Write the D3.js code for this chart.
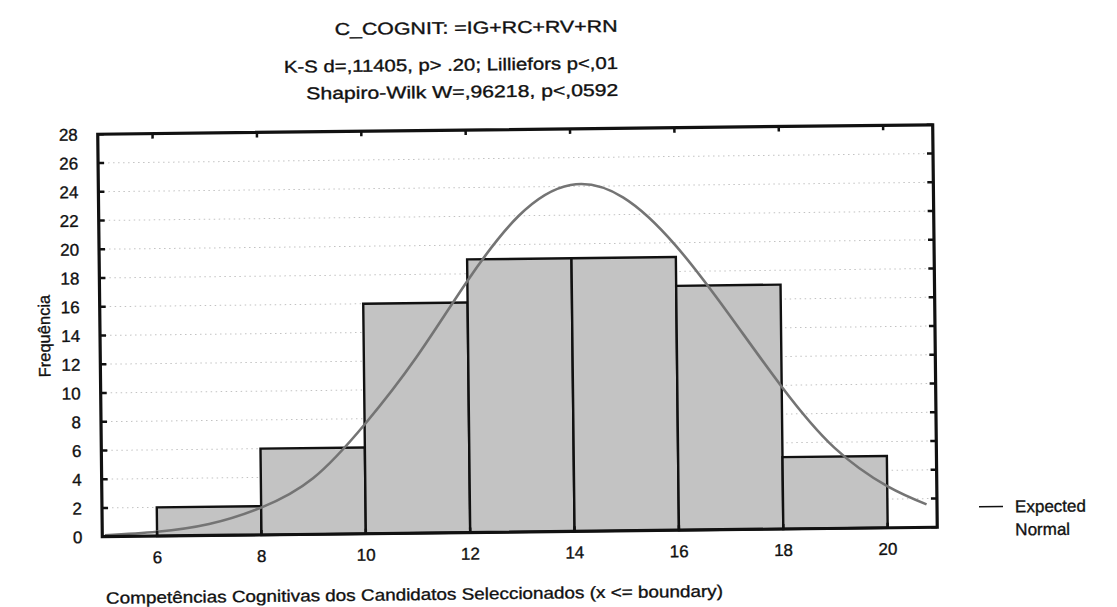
<!DOCTYPE html>
<html>
<head>
<meta charset="utf-8">
<script src="https://cdn.jsdelivr.net/npm/d3@7"></script>
<style>
  body { margin: 0; background: #fff; }
  svg { display: block; }
  text { font-family: "Liberation Sans", Arial, sans-serif; fill: #111; stroke: #111; stroke-width: 0.35px; }
</style>
</head>
<body>
<svg id="chart" width="1117" height="607"></svg>
<script>
// Histogram of C_COGNIT with expected normal curve
const titleLines = [
  "C_COGNIT: =IG+RC+RV+RN",
  "K-S d=,11405, p> .20; Lilliefors p<,01",
  "Shapiro-Wilk W=,96218, p<,0592"
];
const binLower = [6, 8, 10, 12, 14, 16, 18];
const binUpper = [8, 10, 12, 14, 16, 18, 20];
const frequencies = [2, 6, 16, 19, 19, 17, 5];

// expected normal frequencies sampled along x
const normalX = [5, 6, 7, 8, 9, 10, 11, 12, 13, 14, 15, 16, 17, 18, 19, 20, 20.75];
const normalY = [0.1, 0.3, 0.8, 1.9, 3.9, 7.6, 12.2, 17.5, 22.0, 24.1, 23.2, 19.8, 15.0, 9.9, 5.6, 2.9, 1.6];

const xTicks = [6, 8, 10, 12, 14, 16, 18, 20];
const yTicks = [0, 2, 4, 6, 8, 10, 12, 14, 16, 18, 20, 22, 24, 26, 28];

const xLabel = "Competências Cognitivas dos Candidatos Seleccionados (x <= boundary)";
const yLabel = "Frequência";
const legendLines = ["Expected", "Normal"];

const svg = d3.select("#chart");
const plot = { left: 100, right: 935, top: 129.5, bottom: 532 };

// the whole sheet sits at a slight tilt
const root = svg.append("g").attr("transform", "rotate(-0.65 517 331)");

const x = d3.scaleLinear().domain([4.95, 20.95]).range([plot.left, plot.right]);
const y = d3.scaleLinear().domain([0, 28]).range([plot.bottom, plot.top]);

// titles
const titleX = [621, 621, 621];
const titleY = [33, 70, 97];
const titleW = [283, 334, 312];
root.selectAll("text.title").data(titleLines).join("text")
  .attr("class", "title")
  .attr("x", (d, i) => titleX[i])
  .attr("y", (d, i) => titleY[i])
  .attr("text-anchor", "end")
  .attr("font-size", 17)
  .attr("textLength", (d, i) => titleW[i])
  .attr("lengthAdjust", "spacingAndGlyphs")
  .text(d => d);

// dotted horizontal grid
root.append("g").selectAll("line").data(yTicks.filter(t => t > 0 && t < 28)).join("line")
  .attr("x1", plot.left).attr("x2", plot.right)
  .attr("y1", d => y(d)).attr("y2", d => y(d))
  .attr("stroke", "#c2c2c2").attr("stroke-width", 1)
  .attr("stroke-dasharray", "1.5,3.5");

// bars
const bins = frequencies.map((f, i) => ({ lo: binLower[i], hi: binUpper[i], f }));
root.append("g").selectAll("rect").data(bins).join("rect")
  .attr("x", d => x(d.lo))
  .attr("y", d => y(d.f))
  .attr("width", d => x(d.hi) - x(d.lo))
  .attr("height", d => y(0) - y(d.f))
  .attr("fill", "#c3c3c3")
  .attr("stroke", "#111")
  .attr("stroke-width", 2.4);

// expected normal curve
const line = d3.line().x(d => x(d[0])).y(d => y(d[1])).curve(d3.curveNatural);
root.append("path")
  .datum(normalX.map((v, i) => [v, normalY[i]]))
  .attr("d", line)
  .attr("fill", "none")
  .attr("stroke", "#747474")
  .attr("stroke-width", 2.6);

// frame
root.append("rect")
  .attr("x", plot.left).attr("y", plot.top)
  .attr("width", plot.right - plot.left).attr("height", plot.bottom - plot.top)
  .attr("fill", "none").attr("stroke", "#111").attr("stroke-width", 3.2);

// inward ticks on all four sides
const axisG = root.append("g").attr("stroke", "#111").attr("stroke-width", 2.5);
axisG.selectAll("line.yl").data(yTicks).join("line").attr("class", "yl")
  .attr("x1", plot.left).attr("x2", plot.left + 6)
  .attr("y1", d => y(d)).attr("y2", d => y(d));
axisG.selectAll("line.yr").data(yTicks).join("line").attr("class", "yr")
  .attr("x1", plot.right - 6).attr("x2", plot.right)
  .attr("y1", d => y(d)).attr("y2", d => y(d));
axisG.selectAll("line.xt").data(xTicks).join("line").attr("class", "xt")
  .attr("x1", d => x(d)).attr("x2", d => x(d))
  .attr("y1", plot.top).attr("y2", plot.top + 5);
axisG.selectAll("line.xb").data(xTicks).join("line").attr("class", "xb")
  .attr("x1", d => x(d)).attr("x2", d => x(d))
  .attr("y1", plot.bottom).attr("y2", plot.bottom - 5);

// tick labels
root.append("g").selectAll("text").data(yTicks).join("text")
  .attr("x", plot.left - 20)
  .attr("y", d => y(d))
  .attr("dy", "0.36em")
  .attr("text-anchor", "end")
  .attr("font-size", 17)
  .text(d => d);
root.append("g").selectAll("text").data(xTicks).join("text")
  .attr("x", d => x(d))
  .attr("y", plot.bottom + 27)
  .attr("text-anchor", "middle")
  .attr("font-size", 17)
  .text(d => d);

// axis titles
root.append("text")
  .attr("x", plot.left + 3).attr("y", 599)
  .attr("font-size", 16.5)
  .attr("textLength", 617)
  .attr("lengthAdjust", "spacingAndGlyphs")
  .text(xLabel);
root.append("text")
  .attr("transform", `translate(50,${(plot.top + plot.bottom) / 2}) rotate(-90)`)
  .attr("text-anchor", "middle")
  .attr("font-size", 16.5)
  .text(yLabel);

// legend
root.append("line")
  .attr("x1", 977).attr("x2", 1001).attr("y1", 512).attr("y2", 512)
  .attr("stroke", "#111").attr("stroke-width", 1.6);
root.selectAll("text.leg").data(legendLines).join("text").attr("class", "leg")
  .attr("x", 1013).attr("y", (d, i) => 518 + i * 23)
  .attr("font-size", 17)
  .text(d => d);
</script>
</body>
</html>
